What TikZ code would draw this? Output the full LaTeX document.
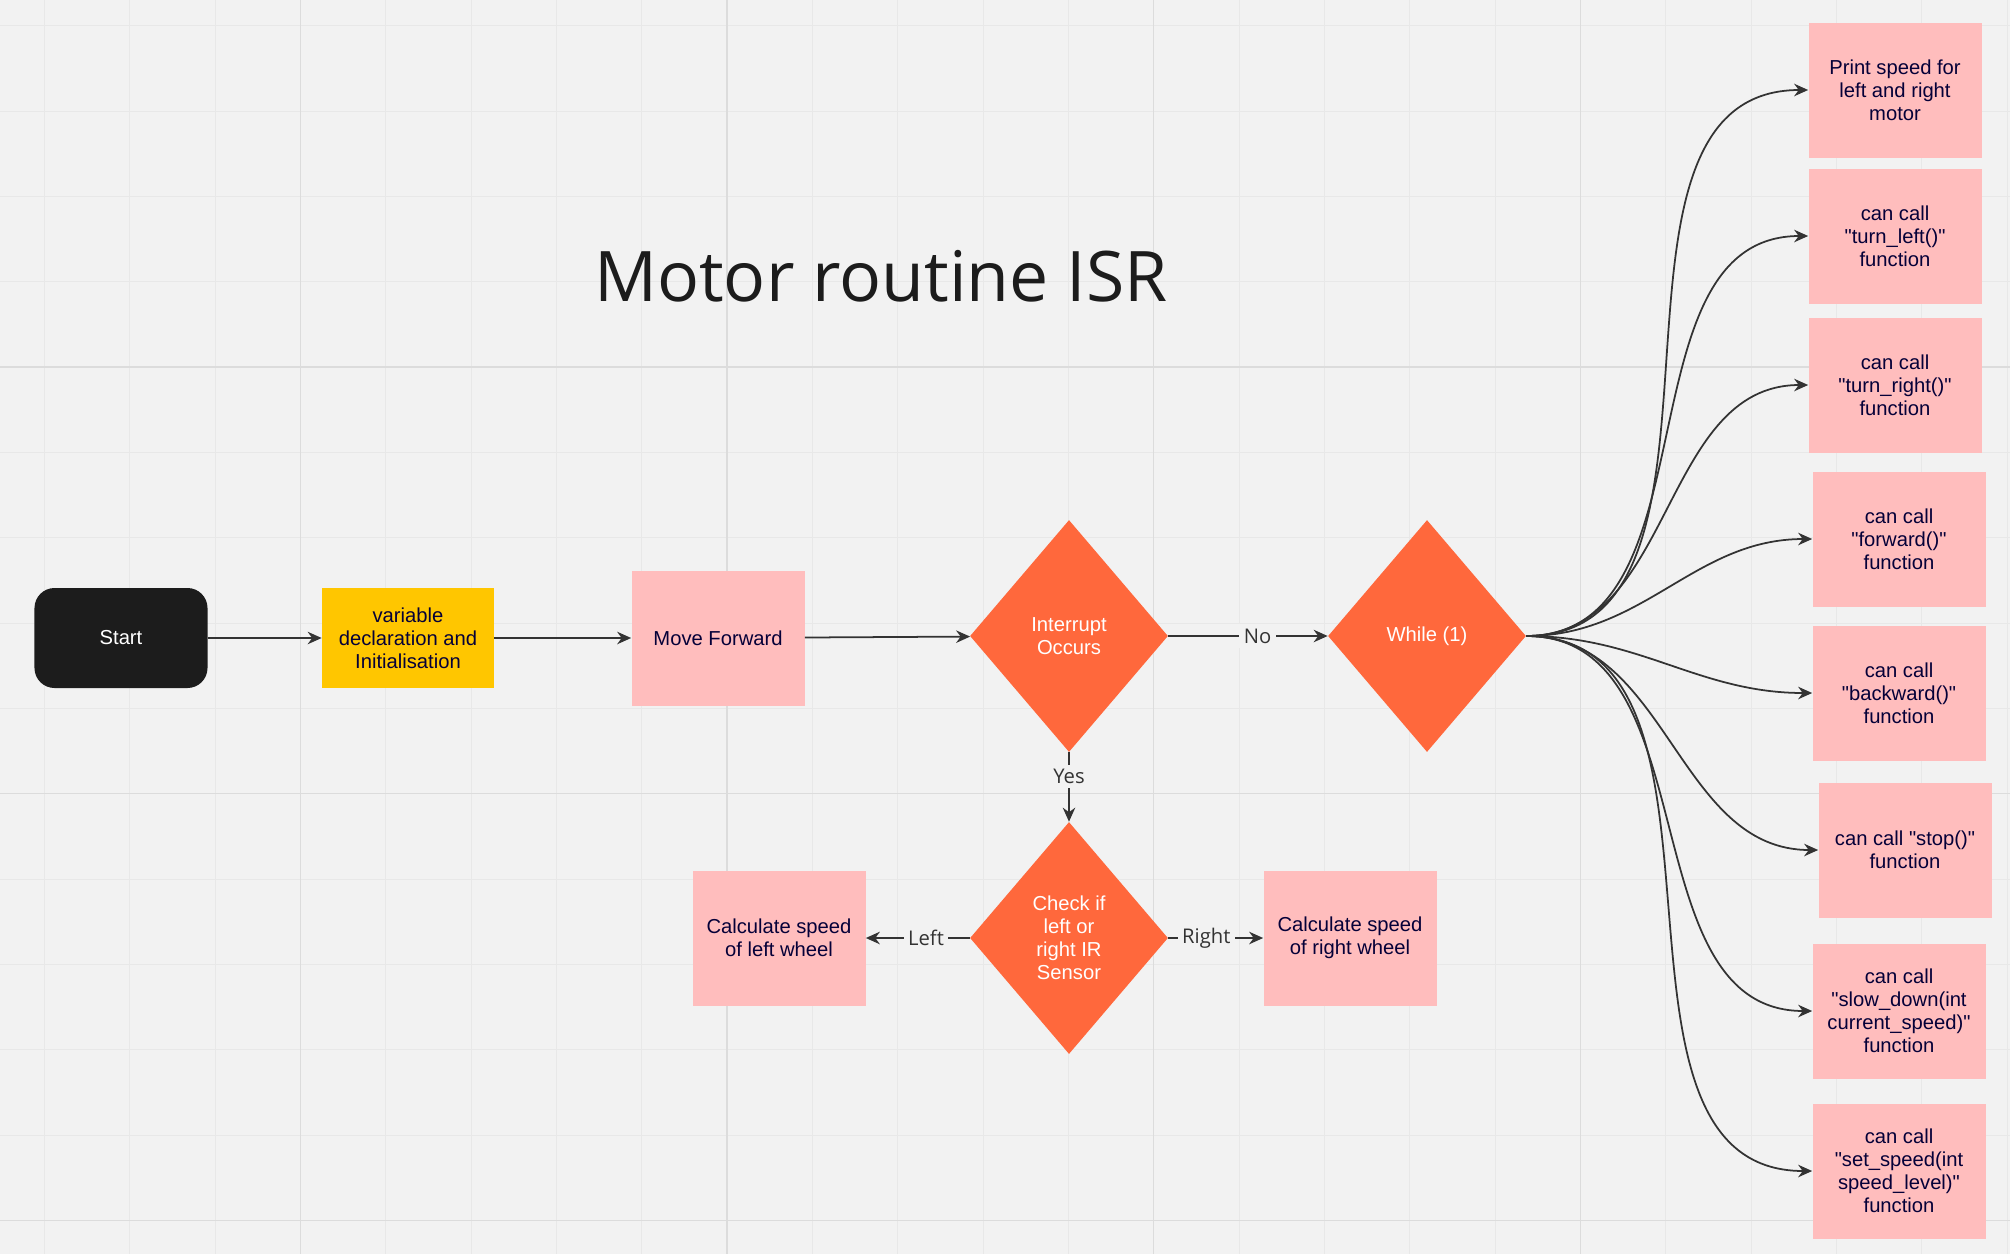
\documentclass[tikz,border=0pt]{standalone}
\usepackage{fontspec}
\setmainfont{Liberation Sans}[Ligatures=TeXOff]
\newfontfamily\labelfont{Open Sans}
\usetikzlibrary{arrows.meta}
\usetikzlibrary{shapes.geometric}

\definecolor{bgcol}{HTML}{F2F2F2}
\definecolor{minorcol}{HTML}{E8E8E8}
\definecolor{majorcol}{HTML}{DCDCDC}
\definecolor{pinkcol}{HTML}{FFBDBD}
\definecolor{orangecol}{HTML}{FF683C}
\definecolor{yellowcol}{HTML}{FFC600}
\definecolor{startcol}{HTML}{1C1C1C}
\definecolor{inkcol}{HTML}{050038}
\definecolor{linecol}{HTML}{333333}

\tikzset{
  callbox/.style={rectangle, fill=pinkcol, text=inkcol, align=center,
    minimum width=3.46cm, minimum height=2.7cm, inner sep=2pt,
    font=\fontsize{11.5}{13}\selectfont},
  decision/.style={diamond, fill=orangecol, text=white, align=center,
    minimum width=3.96cm, minimum height=4.64cm, inner sep=0pt,
    font=\fontsize{11.5}{13}\selectfont},
  flow/.style={draw=linecol, line width=1pt, -{Stealth[length=2.8mm,width=2.5mm]}},
  lbl/.style={fill=bgcol, text=linecol, inner sep=2.5pt,
    font=\labelfont\fontsize{11.5}{13}\selectfont}
}

\begin{document}
\begin{tikzpicture}[x=0.2mm, y=-0.2mm]
      \def\gridstep{85.33}

      % board
      \fill[bgcol] (0,0) rectangle (2010,1254);
      \useasboundingbox (0,0) rectangle (2010,1254);
      \foreach \i in {0,...,23}
        \draw[minorcol, line width=0.5pt] (44.4+\i*\gridstep,0) -- (44.4+\i*\gridstep,1254);
      \foreach \i in {0,...,14}
        \draw[minorcol, line width=0.5pt] (0,25.7+\i*\gridstep) -- (2010,25.7+\i*\gridstep);
      \foreach \i in {3,8,13,18}
        \draw[majorcol, line width=0.7pt] (44.4+\i*\gridstep,0) -- (44.4+\i*\gridstep,1254);
      \foreach \i in {4,9,14}
        \draw[majorcol, line width=0.7pt] (0,25.7+\i*\gridstep) -- (2010,25.7+\i*\gridstep);

      \node[text=startcol] (title) at (881,276) {\labelfont\fontsize{39.7}{46}\selectfont Motor routine ISR};

      % main line
      \node[rectangle, rounded corners=4mm, fill=startcol, text=white,
        minimum width=3.46cm, minimum height=2cm, font=\fontsize{11.5}{13}\selectfont] (start) at (121,638) {Start};
      \node[callbox, fill=yellowcol, minimum width=3.44cm, minimum height=2cm] (init) at (408,638)
        {variable\\declaration and\\Initialisation};
      \node[callbox] (move) at (718,638) {Move Forward};
      \node[decision] (intr) at (1069,636) {Interrupt\\Occurs};
      \node[decision] (loop) at (1427,636) {While (1)};

      % sensor check
      \node[decision] (check) at (1069,938) {Check if\\left or\\right IR\\Sensor};
      \node[callbox] (calcl) at (779,938) {Calculate speed\\of left wheel};
      \node[callbox] (calcr) at (1350,938) {Calculate speed\\of right wheel};

      % functions
      \node[callbox] (print) at (1895,90) {Print speed for\\left and right\\motor};
      \node[callbox] (tleft) at (1895,236) {can call\\"turn\_left()"\\function};
      \node[callbox] (tright) at (1895,385) {can call\\"turn\_right()"\\function};
      \node[callbox] (fwd) at (1899,539) {can call\\"forward()"\\function};
      \node[callbox] (bwd) at (1899,693) {can call\\"backward()"\\function};
      \node[callbox] (stop) at (1905,850) {can call "stop()"\\function};
      \node[callbox] (slow) at (1899,1011) {can call\\"slow\_down(int\\current\_speed)"\\function};
      \node[callbox] (setsp) at (1899,1171) {can call\\"set\_speed(int\\speed\_level)"\\function};

      \draw[flow] (start) -- (init);
      \draw[flow] (init) -- (move);
      \draw[flow] (move) -- (intr);
      \draw[flow] (intr) -- node[lbl, pos=0.56] {No} (loop);
      \draw[flow] (intr) -- node[lbl, pos=0.35] {Yes} (check);
      \draw[flow] (check) -- node[lbl, pos=0.42] {Left} (calcl);
      \draw[flow] (check) -- node[lbl, pos=0.4] {Right} (calcr);

      \foreach \f in {print,tleft,tright,fwd,bwd,stop,slow,setsp}
        \draw[flow] (loop.east) to[out=0, in=180] (\f.west);

    \end{tikzpicture}
\end{document}
